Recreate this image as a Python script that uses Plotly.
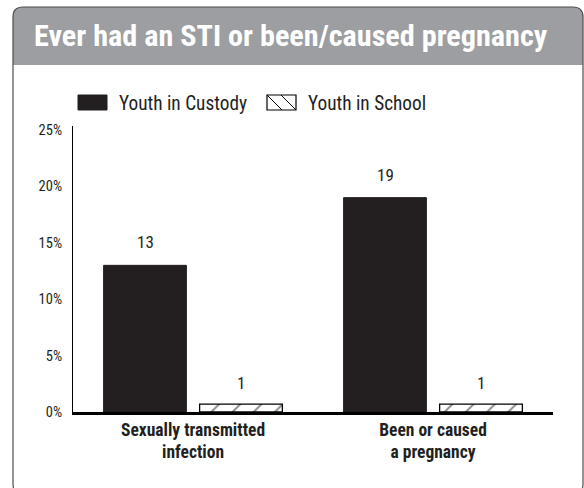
import plotly.graph_objects as go

# ---- data ----
categories = ["Sexually transmitted<br>infection", "Been or caused<br>a pregnancy"]
series_names = ["Youth in Custody", "Youth in School"]
custody_values = [13, 19]
custody_labels = ["13", "19"]
school_values = [0.7, 0.7]
school_labels = ["1", "1"]
y_tick_values = [0, 5, 10, 15, 20, 25]
y_tick_labels = ["0%", "5%", "10%", "15%", "20%", "25%"]
title_text = "Ever had an STI or been/caused pregnancy"

W, H = 584, 488
L, R, T, B = 73, 31, 126, 76
PW, PH = W - L - R, H - T - B
FONT = "Roboto Condensed, DejaVu Sans, sans-serif"
DARK = "#231f20"


def px(x):
    return (x - L) / PW


def py(y):
    return (H - B - y) / PH


bargap = 0.2
bargroupgap = 0.138
xpos = list(range(len(categories)))

fig = go.Figure()
fig.add_trace(go.Bar(
    x=xpos, y=custody_values, name=series_names[0],
    marker=dict(color=DARK, line=dict(color=DARK, width=1)),
    showlegend=False,
))
fig.add_trace(go.Bar(
    x=xpos, y=school_values, name=series_names[1],
    marker=dict(color="white", line=dict(color="black", width=1.3),
                pattern=dict(shape="/", fgcolor="black", bgcolor="white",
                             size=15, solidity=0.12)),
    showlegend=False,
))

annotations = []
off = (1 - bargap) / 4
for i in xpos:
    annotations.append(dict(x=i - off, y=custody_values[i], xref="x", yref="y",
                            text=custody_labels[i], showarrow=False,
                            yanchor="bottom", yshift=11,
                            font=dict(family=FONT, size=17, color=DARK)))
    annotations.append(dict(x=i + off, y=school_values[i], xref="x", yref="y",
                            text=school_labels[i], showarrow=False,
                            yanchor="bottom", yshift=9,
                            font=dict(family=FONT, size=17, color=DARK)))

# title
annotations.append(dict(x=px(32), y=py(35), xref="paper", yref="paper",
                        text="<b>" + title_text + "</b>", showarrow=False,
                        xanchor="left", yanchor="middle",
                        font=dict(family=FONT, size=30.2, color="white")))
# legend labels
annotations.append(dict(x=px(117), y=py(103), xref="paper", yref="paper",
                        text=series_names[0], showarrow=False,
                        xanchor="left", yanchor="middle",
                        font=dict(family=FONT, size=19.3, color=DARK)))
annotations.append(dict(x=px(306), y=py(103), xref="paper", yref="paper",
                        text=series_names[1], showarrow=False,
                        xanchor="left", yanchor="middle",
                        font=dict(family=FONT, size=19.3, color=DARK)))

# card shapes
x0, y0, x1, y1, r = 13, 7, 583, 494, 10
hy = 65
header_path = (f"M {px(x0)} {py(hy)} L {px(x0)} {py(y0 + r)} "
               f"Q {px(x0)} {py(y0)} {px(x0 + r)} {py(y0)} "
               f"L {px(x1 - r)} {py(y0)} Q {px(x1)} {py(y0)} {px(x1)} {py(y0 + r)} "
               f"L {px(x1)} {py(hy)} Z")
card_path = (f"M {px(x0)} {py(y1 - r)} L {px(x0)} {py(y0 + r)} "
             f"Q {px(x0)} {py(y0)} {px(x0 + r)} {py(y0)} "
             f"L {px(x1 - r)} {py(y0)} Q {px(x1)} {py(y0)} {px(x1)} {py(y0 + r)} "
             f"L {px(x1)} {py(y1 - r)} Q {px(x1)} {py(y1)} {px(x1 - r)} {py(y1)} "
             f"L {px(x0 + r)} {py(y1)} Q {px(x0)} {py(y1)} {px(x0)} {py(y1 - r)} Z")

shapes = [
    dict(type="path", path=header_path, xref="paper", yref="paper",
         fillcolor="#9c9ea1", line=dict(width=0), layer="below"),
    dict(type="path", path=card_path, xref="paper", yref="paper",
         line=dict(color="#4d4d4f", width=1.2), layer="above"),
    # legend swatches
    dict(type="rect", xref="paper", yref="paper",
         x0=px(78), x1=px(107), y0=py(110), y1=py(95),
         fillcolor=DARK, line=dict(color=DARK, width=1)),
    dict(type="rect", xref="paper", yref="paper",
         x0=px(267), x1=px(296), y0=py(110), y1=py(95),
         fillcolor="white", line=dict(color="black", width=1.2)),
    dict(type="line", xref="paper", yref="paper",
         x0=px(267), x1=px(282), y0=py(95), y1=py(110),
         line=dict(color="black", width=1)),
    dict(type="line", xref="paper", yref="paper",
         x0=px(281), x1=px(296), y0=py(95), y1=py(110),
         line=dict(color="black", width=1)),
]

fig.update_layout(
    width=W, height=H,
    margin=dict(l=L, r=R, t=T, b=B),
    paper_bgcolor="white", plot_bgcolor="rgba(0,0,0,0)",
    barmode="group", bargap=bargap, bargroupgap=bargroupgap,
    showlegend=False,
    annotations=annotations, shapes=shapes,
    font=dict(family=FONT, color=DARK),
)
fig.update_xaxes(
    range=[-0.5, 1.5], tickvals=xpos,
    ticktext=["<b>" + c + "</b>" for c in categories],
    tickfont=dict(family=FONT, size=17.5, color=DARK),
    showline=True, linecolor="black", linewidth=2.5,
    showgrid=False, zeroline=False, ticks="", fixedrange=True,
)
fig.update_yaxes(
    range=[0, 25.35], tickvals=y_tick_values, ticktext=y_tick_labels,
    tickfont=dict(family=FONT, size=14.5, color=DARK),
    ticklabelstandoff=7,
    showline=True, linecolor="black", linewidth=1,
    showgrid=False, zeroline=False, ticks="", fixedrange=True,
)

post = """
document.body.style.margin = '0';
document.body.style.padding = '0';
"""

fig.write_html("out.html", post_script=post,
               config={"displayModeBar": False, "staticPlot": True})
